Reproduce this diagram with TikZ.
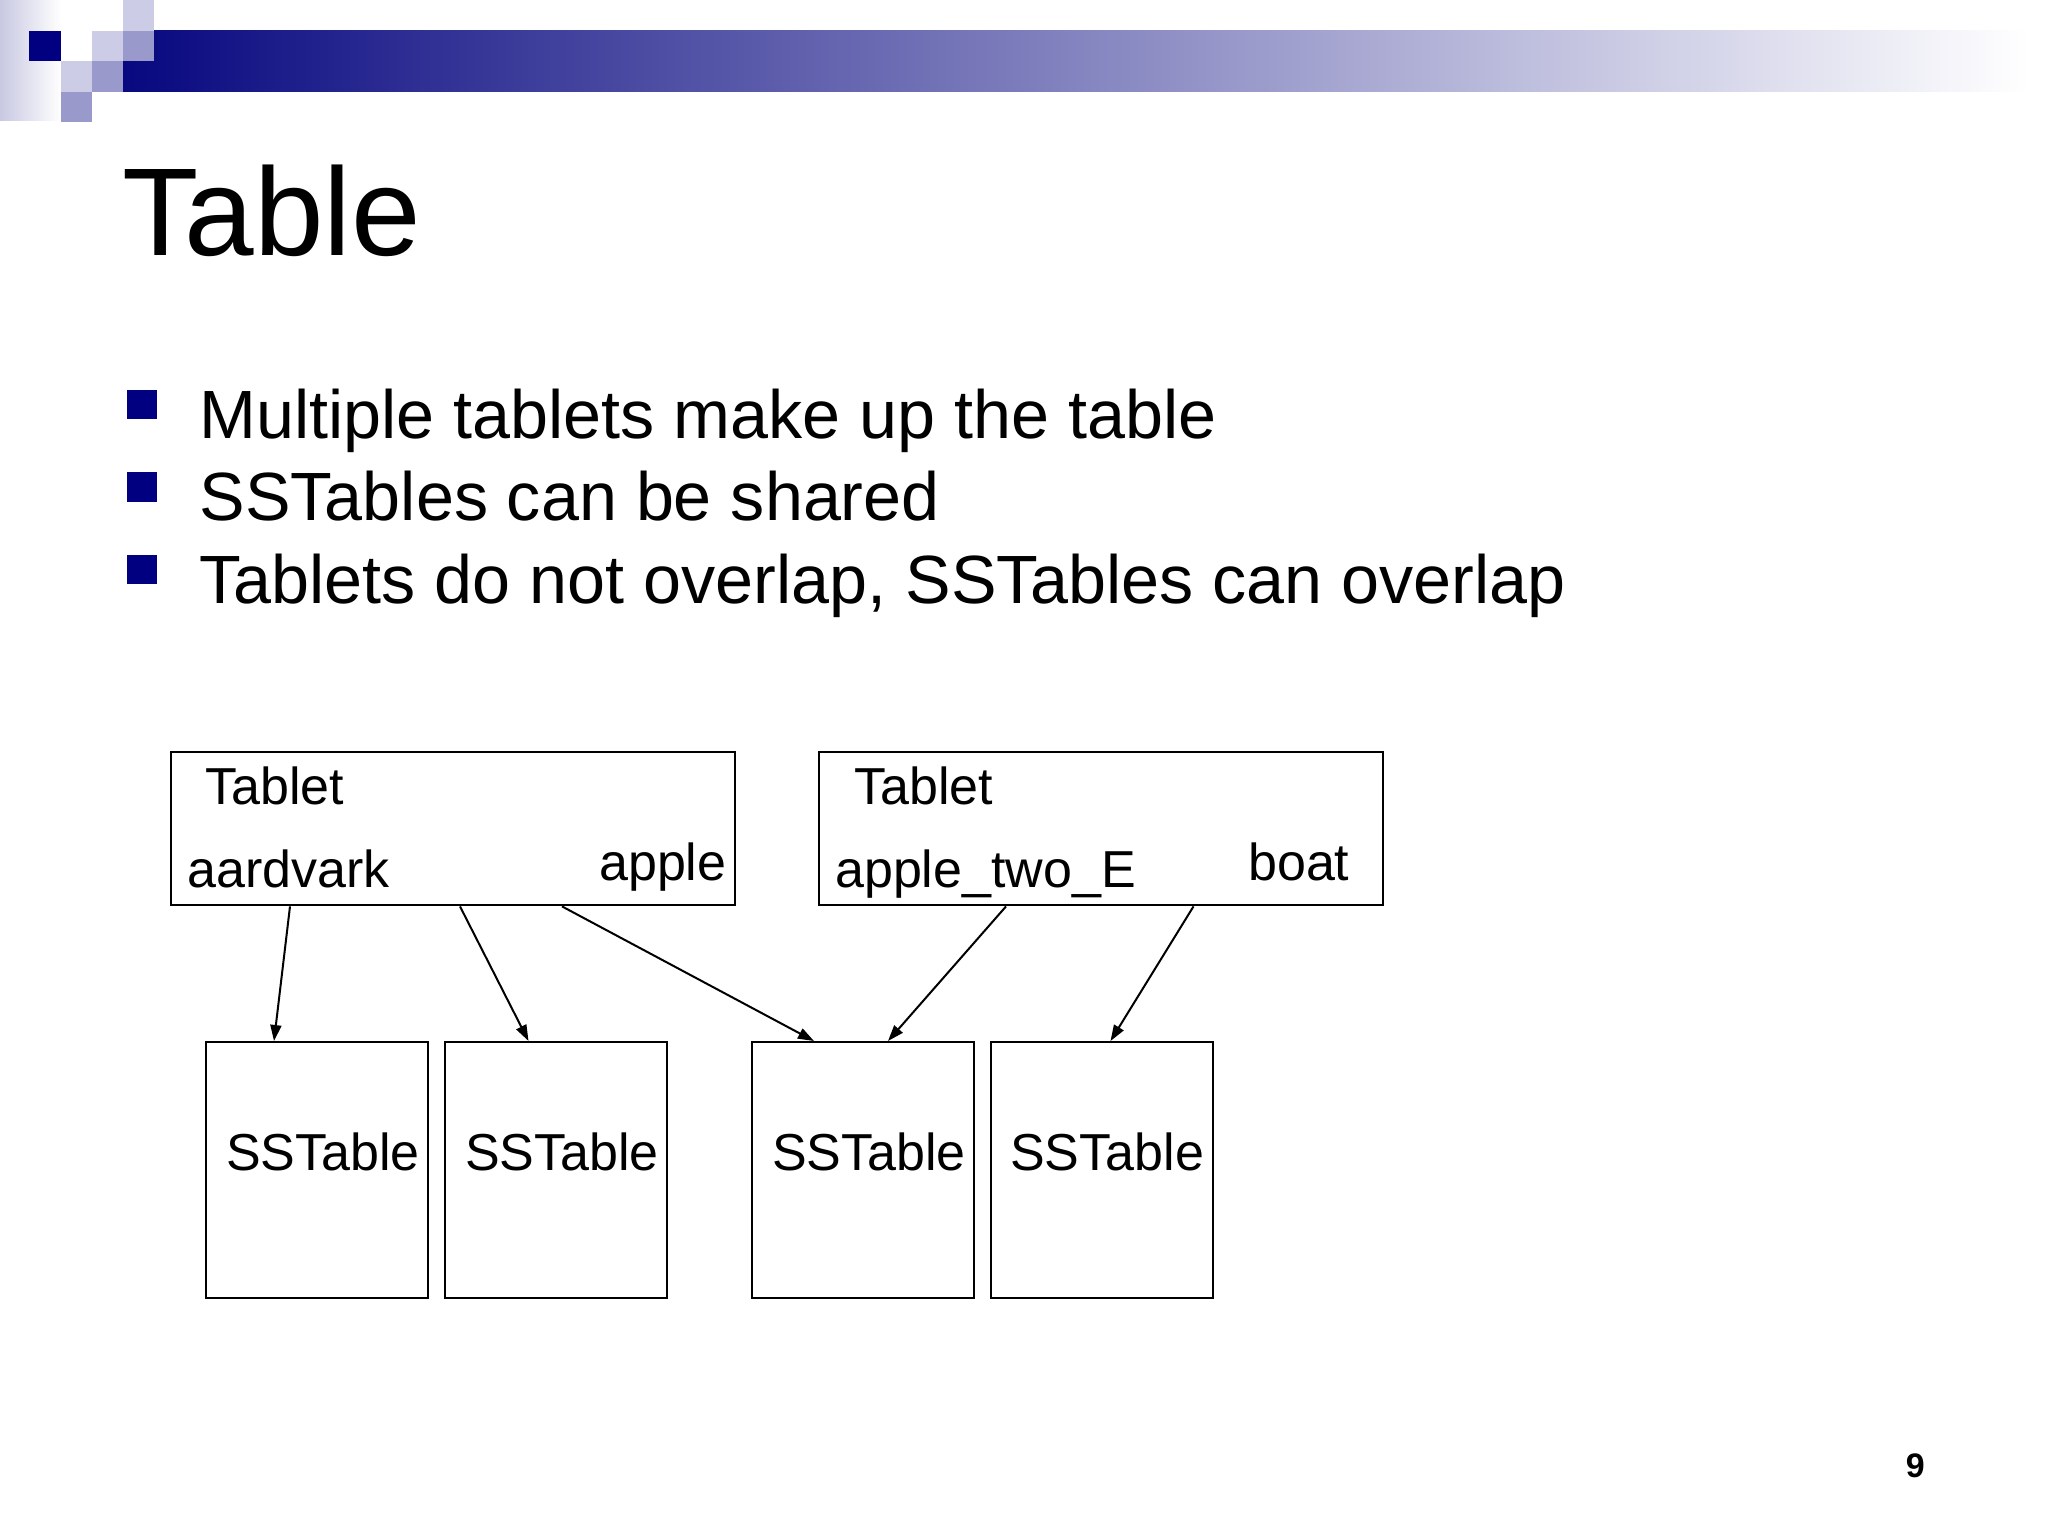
\documentclass[tikz,border=0pt]{standalone}
\usepackage{fontspec}
\setmainfont{Liberation Sans}
\usetikzlibrary{arrows.meta,calc}
\definecolor{navy}{RGB}{0,0,128}
\definecolor{barnavy}{RGB}{8,8,128}
\definecolor{lightlav}{RGB}{204,204,230}
\definecolor{medlav}{RGB}{153,153,204}
\definecolor{striplav}{RGB}{200,200,226}
\tikzset{
  tabletbox/.style={draw=black, line width=2.4pt, inner sep=0pt, minimum width=564pt, minimum height=153pt, anchor=north west},
  ssbox/.style={draw=black, line width=2.4pt, inner sep=0pt, minimum width=222pt, minimum height=256pt, anchor=north west},
  lbl/.style={inner sep=0pt, anchor=base west, font=\fontsize{52}{60}\selectfont},
  bullettext/.style={inner sep=0pt, anchor=base west, font=\fontsize{68.27}{80}\selectfont},
  bulletsq/.style={fill=navy, draw=none, inner sep=0pt, minimum size=29.5pt, anchor=north west},
  arr/.style={draw=black, line width=2pt, -{Triangle[length=16pt,width=11pt]}},
}
\begin{document}
\begin{tikzpicture}[x=1pt,y=-1pt]
\path[use as bounding box, fill=white] (0,0) rectangle (2048,1536);

% header decoration
\shade[left color=striplav, right color=white] (0,0) rectangle (61,121);
\shade[left color=barnavy, right color=white] (123,31) rectangle (2028,92);
\fill[navy] (29,31) rectangle (61,61);
\fill[lightlav] (123,0) rectangle (154,31);
\fill[lightlav] (92,31) rectangle (123,61);
\fill[medlav] (123,31) rectangle (154,61);
\fill[lightlav] (61,61) rectangle (92,92);
\fill[medlav] (92,61) rectangle (123,92);
\fill[medlav] (61,92) rectangle (92,122);

% title
\node[anchor=base west, inner sep=0pt, font=\fontsize{125}{150}\selectfont] (title) at (122,255) {Table};

% bullets
\node[bulletsq] (q1) at (127,389.5) {};
\node[bulletsq] (q2) at (127,472) {};
\node[bulletsq] (q3) at (127,554.5) {};
\node[bullettext] (b1) at (199.5,438) {Multiple tablets make up the table};
\node[bullettext] (b2) at (199.5,520.5) {SSTables can be shared};
\node[bullettext] (b3) at (199.5,603) {Tablets do not overlap, SSTables can overlap};

% tablets
\node[tabletbox] (t1) at (170,751) {};
\node[tabletbox] (t2) at (818,751) {};
\node[lbl] (t1a) at (205,804) {Tablet};
\node[lbl] (t1b) at (187,887.7) {aardvark};
\node[lbl] (t1c) at (599,880) {apple};
\node[lbl] (t2a) at (854,804) {Tablet};
\node[lbl] (t2b) at (835,887.7) {apple\_two\_E};
\node[lbl] (t2c) at (1248,880) {boat};

% sstables
\node[ssbox] (s1) at (205,1041) {};
\node[ssbox] (s2) at (443.5,1041) {};
\node[ssbox] (s3) at (751,1041) {};
\node[ssbox] (s4) at (989.5,1041) {};
\node[lbl] (s1t) at (226,1170) {SSTable};
\node[lbl] (s2t) at (465,1170) {SSTable};
\node[lbl] (s3t) at (772,1170) {SSTable};
\node[lbl] (s4t) at (1010,1170) {SSTable};

% connectors
\draw[arr] ([xshift=120pt]t1.south west) -- ([xshift=69pt]s1.north west);
\draw[arr] ([xshift=290pt]t1.south west) -- ([xshift=85pt]s2.north west);
\draw[arr] ([xshift=392pt]t1.south west) -- ([xshift=63pt]s3.north west);
\draw[arr] ([xshift=188pt]t2.south west) -- ([xshift=137pt]s3.north west);
\draw[arr] ([xshift=375.5pt]t2.south west) -- ([xshift=121pt]s4.north west);

% page number
\node[anchor=base east, inner sep=0pt, font=\fontsize{34}{40}\selectfont\bfseries] (pg) at (1925,1477) {9};
\end{tikzpicture}
\end{document}
